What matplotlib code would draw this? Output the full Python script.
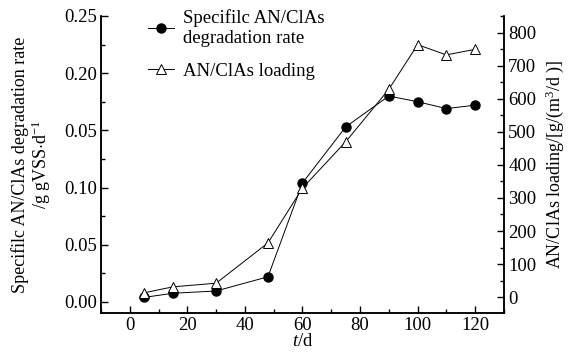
import numpy as np
import matplotlib
matplotlib.use("Agg")
from matplotlib import pyplot as plt
from matplotlib.ticker import MultipleLocator, FixedLocator, FixedFormatter

plt.rcParams['font.family'] = ['Liberation Serif', 'DejaVu Serif']
plt.rcParams['mathtext.fontset'] = 'custom'
plt.rcParams['mathtext.rm'] = 'Liberation Serif'
plt.rcParams['mathtext.it'] = 'Liberation Serif:italic'

# data
days = [5, 15, 30, 48, 60, 75, 90, 100, 110, 120]
rate = [0.004, 0.0076, 0.0096, 0.022, 0.104, 0.153, 0.180, 0.175, 0.169, 0.172]
loading = [13, 31, 42, 164, 330, 470, 629, 764, 733, 750]

left_ticks = [0.00, 0.05, 0.10, 0.15, 0.20, 0.25]
left_labels = ['0.00', '0.05', '0.10', '0.05', '0.20', '0.25']  # as printed
fs = 13.5
lfs = 13

fig = plt.figure(figsize=(5.74, 3.54), dpi=100)
ax = fig.add_axes([0.176, 0.116, 0.702, 0.839])
ax2 = ax.twinx()

l1, = ax.plot(days, rate, '-', color='black', lw=0.7, marker='o',
              ms=6.5, mfc='black', mec='black')
l2, = ax2.plot(days, loading, '-', color='black', lw=0.7, marker='^',
               ms=7.5, mfc='white', mec='black', mew=0.7)

ax.set_xlim(-10, 130)
ax.set_ylim(-0.0096, 0.25)
ax2.set_ylim(-48, 851)

ax.xaxis.set_major_locator(MultipleLocator(20))
ax.xaxis.set_minor_locator(MultipleLocator(10))
ax.yaxis.set_major_locator(FixedLocator(left_ticks))
ax.yaxis.set_major_formatter(FixedFormatter(left_labels))
ax.yaxis.set_minor_locator(MultipleLocator(0.025))
ax2.yaxis.set_major_locator(MultipleLocator(100))
ax2.yaxis.set_minor_locator(MultipleLocator(50))

for a in (ax, ax2):
    a.spines['top'].set_visible(False)
    for s in a.spines.values():
        s.set_linewidth(1.1)
    a.tick_params(which='both', direction='in', labelsize=fs, width=1.0, pad=3)
    a.tick_params(which='major', length=5)
    a.tick_params(which='minor', length=3)
ax.tick_params(axis='y', which='both', right=False)

ax.set_xlabel('$t$/d', fontsize=fs, labelpad=-1)
ax.set_ylabel('Specifilc AN/ClAs degradation rate\n/g gVSS$\\cdot$d$^{-1}$',
              fontsize=lfs, linespacing=1.05, labelpad=8)
ax2.set_ylabel('AN/ClAs loading/[g/(m$^3$/d )]', fontsize=lfs, labelpad=5)

ax2.legend([l1, l2], ['Specifilc AN/ClAs\ndegradation rate', 'AN/ClAs loading'],
           loc='upper left', bbox_to_anchor=(0.244, 0.995), bbox_transform=fig.transFigure,
           frameon=False, fontsize=fs, handlelength=1.4, handletextpad=0.5,
           labelspacing=0.85, borderaxespad=0)

fig.savefig('out.png', dpi=100)
